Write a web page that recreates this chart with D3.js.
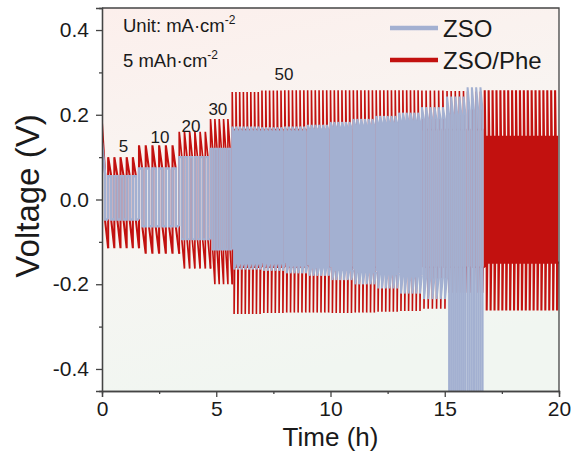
<!DOCTYPE html>
<html><head><meta charset="utf-8">
<script src="https://cdn.jsdelivr.net/npm/d3@7"></script>
<style>
body{margin:0;background:#fff}
svg{display:block}
text{font-family:Arial,"Liberation Sans",Helvetica,sans-serif;fill:#1a1a1a}
</style></head>
<body><svg id="c" width="573" height="454"></svg>
<script>
// ---------------- data ----------------
// time blocks of the galvanostatic protocol (h)
const segStart  = [0.00, 0.27, 1.62, 3.38, 4.75, 5.7, 7, 8, 9, 10, 11, 12, 13, 14, 15.1, 16, 16.75];
const segEnd    = [0.27, 1.62, 3.38, 4.75, 5.70, 7, 8, 9, 10, 11, 12, 13, 14, 15.1, 16, 16.75, 20];
const segCycles = [1, 5, 6, 6, 5, 8, 6, 6, 6, 6, 6, 6, 6, 6, 5, 4, 19];
const segRate   = [5, 5, 10, 20, 30, 50, 50, 50, 50, 50, 50, 50, 50, 50, 50, 50, 50];

// ZSO/Phe voltage (V) at start / end of the plating and stripping half-cycles
const phePosStart = [0.18, 0.10, 0.128, 0.16, 0.19, 0.254, 0.257, 0.258, 0.258, 0.258, 0.258, 0.258, 0.258, 0.257, 0.256, 0.255, 0.258];
const phePosEnd   = [0.06, 0.055, 0.07, 0.10, 0.12, 0.165, 0.165, 0.165, 0.165, 0.165, 0.165, 0.165, 0.165, 0.165, 0.165, 0.165, 0.148];
const pheNegStart = [-0.05, -0.05, -0.065, -0.095, -0.12, -0.27, -0.268, -0.267, -0.267, -0.268, -0.267, -0.265, -0.263, -0.258, -0.22, -0.22, -0.262];
const pheNegEnd   = [-0.115, -0.115, -0.128, -0.163, -0.20, -0.16, -0.16, -0.16, -0.16, -0.16, -0.16, -0.16, -0.16, -0.16, -0.16, -0.16, -0.149];
// fraction of each half-cycle over which the ZSO/Phe voltage relaxes from start to end value
const pheRelax    = [1, 1, 1, 1, 1, 0.3, 0.3, 0.3, 0.3, 0.3, 0.3, 0.3, 0.3, 0.3, 0.3, 0.3, 0.3];

// ZSO voltage (V); null = cell already failed
const zsoPosStart = [0.134, 0.055, 0.073, 0.10, 0.12, 0.172, 0.170, 0.172, 0.176, 0.183, 0.190, 0.197, 0.205, 0.218, 0.243, 0.265, null];
const zsoPosEnd   = [0.06, 0.055, 0.073, 0.10, 0.12, 0.16, 0.16, 0.16, 0.165, 0.17, 0.175, 0.18, 0.185, 0.19, 0.2, 0.21, null];
const zsoNegStart = [-0.047, -0.047, -0.063, -0.094, -0.118, -0.165, -0.168, -0.174, -0.18, -0.19, -0.20, -0.21, -0.222, -0.235, -0.60, -0.60, null];
const zsoNegEnd   = [-0.047, -0.047, -0.063, -0.094, -0.118, -0.15, -0.15, -0.155, -0.16, -0.165, -0.17, -0.175, -0.18, -0.185, -0.60, -0.60, null];

const seriesNames = ["ZSO", "ZSO/Phe"];
const rateLabels  = ["5", "10", "20", "30", "50"];
const xTicks = [0, 5, 10, 15, 20];
const xMinor = [2.5, 7.5, 12.5, 17.5];
const yTicks = [-0.4, -0.2, 0.0, 0.2, 0.4];
const yMinor = [-0.3, -0.1, 0.1, 0.3];

// ---------------- layout ----------------
const C = {left:102, right:559, top:8, bottom:391};
const RED = "#c2110f", BLUE = "#a3b0d1";
const svg = d3.select("#c");
const x = d3.scaleLinear().domain([0,20]).range([C.left, C.right]);
const y = d3.scaleLinear().domain([-0.452,0.452]).range([C.bottom, C.top]);

const defs = svg.append("defs");
const g1 = defs.append("linearGradient").attr("id","bg").attr("x1","0").attr("y1","0").attr("x2","0.25").attr("y2","1");
g1.append("stop").attr("offset","0").attr("stop-color","#fcefec");
g1.append("stop").attr("offset","0.5").attr("stop-color","#f8f5f2");
g1.append("stop").attr("offset","1").attr("stop-color","#f1f6f1");
defs.append("clipPath").attr("id","clip").append("rect")
  .attr("x",C.left).attr("y",C.top).attr("width",C.right-C.left).attr("height",C.bottom-C.top);

svg.append("rect").attr("x",C.left).attr("y",C.top).attr("width",C.right-C.left)
  .attr("height",C.bottom-C.top).attr("fill","url(#bg)");

const line = d3.line().x(d=>x(d[0])).y(d=>y(d[1]));
const plot = svg.append("g").attr("clip-path","url(#clip)");

function wave(i, ps, pe, ns, ne, relax){
  const n = segCycles[i], P = (segEnd[i]-segStart[i])/n, h = P/2, r = relax ? relax[i] : 1, pts = [];
  for(let k=0;k<n;k++){
    const t0 = segStart[i] + k*P;
    pts.push([t0, ps[i]]);
    if(r < 1) pts.push([t0 + r*h, pe[i]]);
    pts.push([t0+h, pe[i]], [t0+h, ns[i]]);
    if(r < 1) pts.push([t0 + h + r*h, ne[i]]);
    pts.push([t0+P, ne[i]]);
  }
  return pts;
}
const halfPx = i => (x(segEnd[i])-x(segStart[i]))/segCycles[i]/2;
const blueW = i => Math.max(2.0, Math.min(2.6, halfPx(i)*0.8));

// ZSO/Phe (underneath)
let prevR = null;
segStart.forEach((s,i)=>{
  let pts = wave(i, phePosStart, phePosEnd, pheNegStart, pheNegEnd, pheRelax);
  if(prevR) pts = [prevR].concat(pts);
  prevR = pts[pts.length-1];
  const alone = zsoPosStart[i]===null;
  plot.append("path").attr("d", line(pts)).attr("fill","none")
    .attr("stroke",RED).attr("stroke-width", alone ? 2.1 : Math.max(1.6, Math.min(2.1, blueW(i)-0.4)));
});

// ZSO (on top)
let prev = null;
segStart.forEach((s,i)=>{
  if(zsoPosStart[i]===null) return;
  let pts = wave(i, zsoPosStart, zsoPosEnd, zsoNegStart, zsoNegEnd, null);
  if(prev) pts = [prev].concat(pts);
  prev = pts[pts.length-1];
  plot.append("path").attr("d", line(pts)).attr("fill","none")
    .attr("stroke",BLUE).attr("stroke-width", blueW(i));
});

// ---------------- axes ----------------
const axCol = "#444";
const xAxis = svg.append("g").attr("transform",`translate(0,${C.bottom})`)
  .call(d3.axisBottom(x).tickValues(xTicks).tickSize(6).tickPadding(4).tickFormat(d3.format("d")));
const xAxisMinor = svg.append("g").attr("transform",`translate(0,${C.bottom})`)
  .call(d3.axisBottom(x).tickValues(xMinor).tickSize(3).tickFormat(""));
const yAxis = svg.append("g").attr("transform",`translate(${C.left},0)`)
  .call(d3.axisLeft(y).tickValues(yTicks).tickSize(6).tickPadding(7).tickFormat(d=>d.toFixed(1)));
const yAxisMinor = svg.append("g").attr("transform",`translate(${C.left},0)`)
  .call(d3.axisLeft(y).tickValues(yMinor).tickSize(3).tickFormat(""));
[xAxis,xAxisMinor,yAxis,yAxisMinor].forEach(a=>{
  a.selectAll("path,line").attr("stroke",axCol).attr("stroke-width",1.3);
  a.selectAll("text").attr("font-size",21).attr("fill","#1a1a1a").attr("font-family",'Arial,"Liberation Sans",sans-serif');
});
svg.append("path").attr("d",`M${C.left},${C.top}H${C.right}V${C.bottom}`)
  .attr("fill","none").attr("stroke",axCol).attr("stroke-width",1.3);

svg.append("text").attr("x",(C.left+C.right)/2).attr("y",446).attr("text-anchor","middle")
  .attr("font-size",26).text("Time (h)");
svg.append("text").attr("transform",`translate(39,196) rotate(-90)`).attr("text-anchor","middle")
  .attr("font-size",33).text("Voltage (V)");

// ---------------- annotations ----------------
const t1 = svg.append("text").attr("x",123).attr("y",32).attr("font-size",18.5);
t1.append("tspan").text("Unit: mA·cm");
t1.append("tspan").attr("font-size",12).attr("dy",-8).text("-2");
const t2 = svg.append("text").attr("x",123).attr("y",67).attr("font-size",18.5);
t2.append("tspan").text("5 mAh·cm");
t2.append("tspan").attr("font-size",12).attr("dy",-8).text("-2");

const labelAt = [[0.94,0.112],[2.54,0.133],[3.89,0.159],[5.07,0.199],[7.96,0.281]];
rateLabels.forEach((L,i)=>{
  svg.append("text").attr("x",x(labelAt[i][0])).attr("y",y(labelAt[i][1]))
    .attr("text-anchor","middle").attr("font-size",17).text(L);
});

// ---------------- legend ----------------
const leg = [[BLUE, 28, 37],[RED, 60, 69]];
seriesNames.forEach((nm,i)=>{
  svg.append("line").attr("x1",390).attr("x2",438).attr("y1",leg[i][1]).attr("y2",leg[i][1])
    .attr("stroke",leg[i][0]).attr("stroke-width",4.5);
  svg.append("text").attr("x",443).attr("y",leg[i][2]).attr("font-size",24).text(nm);
});
</script></body></html>
